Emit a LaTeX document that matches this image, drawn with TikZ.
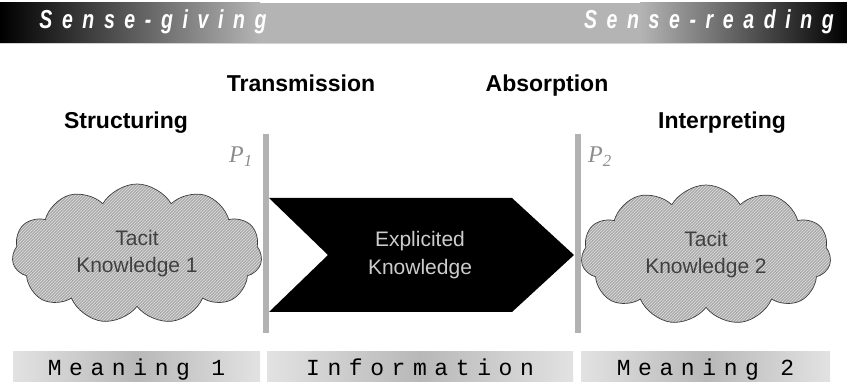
\documentclass[tikz,border=0pt]{standalone}
\usepackage{fontspec}
\setmainfont{Liberation Sans}
\newfontfamily\bannerfont{Liberation Sans}[FakeStretch=0.75,LetterSpace=37]
\newfontfamily\codefont{Liberation Mono}[LetterSpace=33]
\newfontfamily\pfont{Liberation Serif}
\usetikzlibrary{shapes.symbols,patterns}
\definecolor{bargray}{HTML}{B2B2B2}
\definecolor{bannergray}{HTML}{B4B4B4}
\definecolor{cloudgray}{HTML}{ABABAB}
\definecolor{hatchgray}{HTML}{E0E0E0}
\definecolor{cloudline}{HTML}{3C3C3C}
\definecolor{cloudtext}{HTML}{404040}
\definecolor{pgray}{HTML}{8C8C8C}
\definecolor{explgray}{HTML}{CCCCCC}
\definecolor{boxlight}{HTML}{E2E2E2}
\definecolor{boxdark}{HTML}{B8B8B8}

\begin{document}
\begin{tikzpicture}[x=1pt,y=-1pt,
  banner/.style={text=white,inner sep=0pt,
    font=\bannerfont\bfseries\itshape\fontsize{26}{26}\selectfont},
  phase/.style={inner sep=0pt,anchor=base,font=\bfseries\fontsize{23}{23}\selectfont},
  tacit/.style={cloud,cloud puffs=11,cloud puff arc=120,cloud ignores aspect,
    minimum width=250pt,minimum height=140pt,inner sep=0pt,
    draw=cloudline,line width=0.7pt,preaction={fill=cloudgray},
    pattern=north east lines,pattern color=hatchgray,
    text=cloudtext,align=center,font=\fontsize{21}{27}\selectfont},
  point/.style={text=pgray,inner sep=0pt,font=\pfont\itshape\fontsize{24}{24}\selectfont},
  stage/.style={minimum height=30pt,inner sep=0pt,text height=18pt,text depth=2pt,
    left color=boxlight,right color=boxlight,middle color=boxdark,
    font=\codefont\fontsize{23}{23}\selectfont}
]
  \useasboundingbox (0,0) rectangle (847,382);

  \shade[left color=black,right color=bannergray] (0,3) rectangle (260,43);
  \fill[bannergray] (260,3) rectangle (640,43);
  \shade[left color=bannergray,right color=black] (640,3) rectangle (847,43);
  \draw[gray!35,line width=1.2pt] (0,43.6) -- (847,43.6);
  \node[banner] (giving) at (153,22) {Sense-giving};
  \node[banner] (reading) at (709,22) {Sense-reading};

  \node[phase] (transmission) at (301,92) {Transmission};
  \node[phase] (absorption) at (547,92) {Absorption};
  \node[phase] (structuring) at (126,129) {Structuring};
  \node[phase] (interpreting) at (722,129) {Interpreting};

  \fill[bargray] (262.5,134) rectangle (268.5,333);
  \fill[bargray] (575,134) rectangle (581,333);
  \node[point] (p1) at (241,157) {P\textsubscript{1}};
  \node[point] (p2) at (600,157) {P\textsubscript{2}};

  \node[tacit] (tk1) at (137,254) {Tacit\\Knowledge 1};
  \node[tacit] (tk2) at (706,255) {Tacit\\Knowledge 2};

  \fill[black] (269,198) -- (512,198) -- (574,255) -- (512,312)
    -- (269,312) -- (328,255) -- cycle;
  \node[text=explgray,align=center,font=\fontsize{21}{28}\selectfont] (expl)
    at (420,255) {Explicited\\Knowledge};

  \node[stage,minimum width=247pt] (meaning1) at (136.5,367) {Meaning 1};
  \node[stage,minimum width=306pt] (information) at (420,367) {Information};
  \node[stage,minimum width=249pt] (meaning2) at (705.5,367) {Meaning 2};
\end{tikzpicture}
\end{document}
